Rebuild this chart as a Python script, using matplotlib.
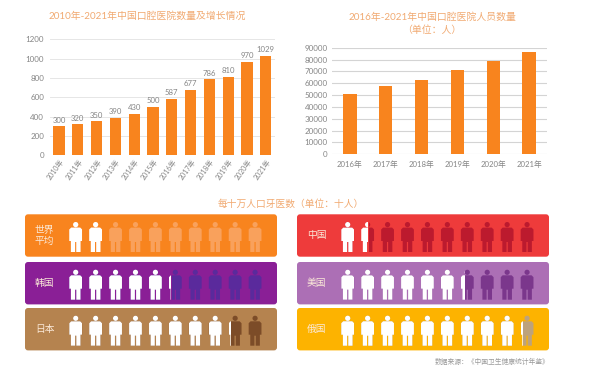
import matplotlib
matplotlib.use("Agg")
import matplotlib.pyplot as plt
from matplotlib.patches import FancyBboxPatch, PathPatch, Rectangle
from matplotlib.path import Path
from matplotlib.transforms import Affine2D

FONT = ['Lato', 'Noto Sans CJK SC', 'DejaVu Sans']
plt.rcParams['font.family'] = FONT

W, H = 600, 372
ORANGE = '#F8841E'
TITLE = '#F1AA72'
TICK = '#858585'

# ---- data ----
years_a = ['2010年', '2011年', '2012年', '2013年', '2014年', '2015年',
           '2016年', '2017年', '2018年', '2019年', '2020年', '2021年']
hospitals = [300, 320, 350, 390, 430, 500, 587, 677, 786, 810, 970, 1029]
years_b = ['2016年', '2017年', '2018年', '2019年', '2020年', '2021年']
staff = [50500, 57500, 63000, 71500, 79000, 86500]
countries = ['世界\n平均', '韩国', '日本', '中国', '美国', '俄国']
dentists = [2.0, 5.15, 8.15, 1.55, 6.3, 9.15]
panel_colors = ['#F8841E', '#8A1F96', '#B5834F', '#EE3B3B', '#AC6FB5', '#FDB300']
icon_colors = ['#F9A15C', '#5A2A9C', '#7C4C28', '#BC1A2E', '#7B378C', '#BDA27C']
icons_per_row = 10


def px_axes(fig, l, t, r, b):
    return fig.add_axes([l / W, 1 - b / H, (r - l) / W, (b - t) / H])


fig = plt.figure(figsize=(W / 100, H / 100), dpi=100, facecolor='white')

# ---- left chart ----
ax1 = px_axes(fig, 49.6, 39.3, 275.2, 155.3)
ax1.bar(range(len(hospitals)), hospitals, width=0.6, color=ORANGE, zorder=3)
for i, v in enumerate(hospitals):
    ax1.text(i, v + 26, str(v), ha='center', va='bottom', fontsize=5.6, color=TICK)
ax1.set_xlim(-0.5, 11.5)
ax1.set_ylim(0, 1200)
ax1.set_yticks(range(0, 1201, 200))
ax1.set_xticks(range(len(years_a)))
ax1.set_xticklabels(years_a, rotation=55, ha='right', rotation_mode='anchor',
                    fontsize=5.0, color=TICK)
ax1.tick_params(axis='y', length=0, labelsize=5.8, labelcolor=TICK, pad=4)
ax1.tick_params(axis='x', length=0, pad=2)
ax1.grid(axis='y', color='#E6E6E6', lw=0.7, zorder=0)
for s in ax1.spines.values():
    s.set_visible(False)

# ---- right chart ----
ax2 = px_axes(fig, 332, 47.7, 547, 154.3)
ax2.bar(range(len(staff)), staff, width=0.37, color=ORANGE, zorder=3)
ax2.set_xlim(-0.5, 5.5)
ax2.set_ylim(0, 90000)
ax2.set_yticks(range(0, 90001, 10000))
ax2.set_xticks(range(len(years_b)))
ax2.set_xticklabels(years_b, fontsize=5.6, color=TICK)
ax2.tick_params(axis='y', length=0, labelsize=5.8, labelcolor=TICK, pad=3)
ax2.tick_params(axis='x', length=0, pad=4)
ax2.grid(axis='y', color='#D4D4D4', lw=0.8, zorder=0)
for s in ax2.spines.values():
    s.set_visible(False)

# ---- full-figure pixel layer ----
ov = fig.add_axes([0, 0, 1, 1], zorder=5)
ov.set_xlim(0, W)
ov.set_ylim(H, 0)
ov.axis('off')
ov.patch.set_alpha(0)

ov.text(147.5, 16.5, '2010年-2021年中国口腔医院数量及增长情况', ha='center', va='center',
        fontsize=7.1, color=TITLE)
ov.text(432, 17, '2016年-2021年中国口腔医院人员数量', ha='center', va='center',
        fontsize=7.1, color=TITLE)
ov.text(432, 30.5, '（单位：人）', ha='center', va='center', fontsize=7.1, color=TITLE)
ov.text(291, 204, '每十万人口牙医数（单位：十人）', ha='center', va='center',
        fontsize=7.0, color=TITLE)
ov.text(549, 361, '数据来源：《中国卫生健康统计年鉴》', ha='right', va='center',
        fontsize=4.9, color='#9A9A9A')

# person icon, local pixels around (centre x, top y)
body = [(-4.5, 5.6), (4.5, 5.6), (6.4, 7.5), (6.4, 19), (4.8, 19), (4.8, 30), (0.6, 30),
        (0.6, 20), (-0.6, 20), (-0.6, 30), (-4.8, 30), (-4.8, 19), (-6.4, 19), (-6.4, 7.5),
        (-4.5, 5.6)]
head = Path.circle((0, 2.6), 2.6)
PERSON = Path.make_compound_path(head, Path(body, closed=True))

PANEL_W, PANEL_H, ICON_STEP = 252, 42.4, 19.93
slots = [(25, 214.3), (25, 262), (25, 308), (297, 214.3), (297, 262), (297, 308)]

for name, val, pc, ic, (px, py) in zip(countries, dentists, panel_colors, icon_colors, slots):
    ov.add_patch(FancyBboxPatch((px + 2, py + 2), PANEL_W - 4, PANEL_H - 4,
                                boxstyle='round,pad=2,rounding_size=3',
                                fc=pc, ec='none'))
    ov.text(px + 19.6, py + PANEL_H / 2, name, ha='center', va='center', fontsize=7.0,
            color='#FBE9D8', linespacing=1.3)
    for i in range(icons_per_row):
        cx = px + 50.7 + i * ICON_STEP
        top = py + 7.7
        tr = Affine2D().translate(cx, top) + ov.transData
        frac = max(0.0, min(1.0, val - i))
        dark = PathPatch(PERSON, fc=ic, ec='none', transform=tr)
        ov.add_patch(dark)
        if frac > 0:
            if frac < 1:
                dark.set_clip_path(Rectangle((cx - 6.4 + 13 * frac + 0.6, top - 1), 14, 33,
                                             transform=ov.transData))
            white = PathPatch(PERSON, fc='white', ec='none', transform=tr)
            ov.add_patch(white)
            white.set_clip_path(Rectangle((cx - 6.4, top - 1), 13 * frac, 33,
                                          transform=ov.transData))

fig.savefig('out.png', dpi=100, facecolor='white')
